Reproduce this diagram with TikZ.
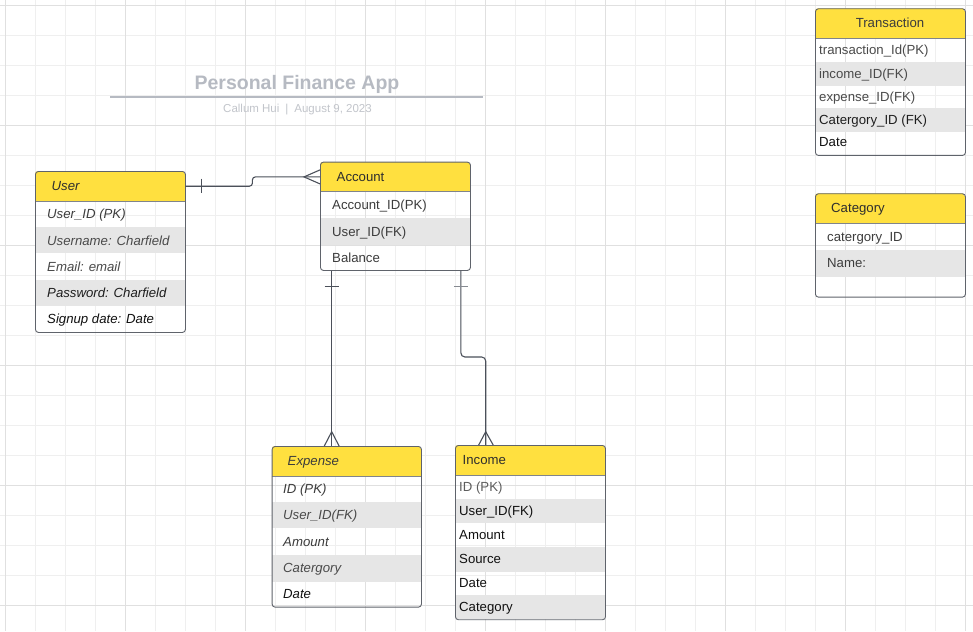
\documentclass[tikz,border=0pt]{standalone}
\usepackage{fontspec}
\setmainfont{Liberation Sans}
\usetikzlibrary{calc}
\definecolor{gridminor}{HTML}{EFEFEF}
\definecolor{gridmajor}{HTML}{E0E0E0}
\definecolor{hdr}{HTML}{FFE03F}
\definecolor{rowgray}{HTML}{E6E6E6}
\definecolor{border}{HTML}{5F636B}
\definecolor{sepline}{HTML}{80848B}
\definecolor{connc}{HTML}{4B505A}
\definecolor{connlight}{HTML}{868A91}
\definecolor{titlegray}{HTML}{B6BAC2}
\definecolor{subgray}{HTML}{C2C5CB}
\definecolor{tA}{HTML}{111111}
\definecolor{tB}{HTML}{1E1E1E}
\definecolor{tC}{HTML}{2E2E2E}
\definecolor{tD}{HTML}{3C3C3C}
\definecolor{tE}{HTML}{4A4A4A}
\definecolor{tF}{HTML}{5C5C5C}
\newcommand\cellat[5]{\node[celltxt, text=#4] (#1) at (#2,#3) {#5};}
\newcommand\itcellat[5]{\node[itcell, text=#4] (#1) at (#2,#3) {#5};}
\begin{document}
\begin{tikzpicture}[x=1pt,y=-1pt,
  tblbox/.style={draw=border, line width=0.9pt, rounded corners=3pt, inner sep=0, anchor=north west},
  hdrbox/.style={inner sep=0, anchor=north west, minimum width=150pt, minimum height=30pt},
  celltxt/.style={anchor=base west, inner sep=0, font=\fontsize{13.2}{15}\selectfont},
  itcell/.style={anchor=base west, inner sep=0, font=\fontsize{13.2}{15}\selectfont\itshape},
  connline/.style={draw=connc, line width=1.1pt},
  lightline/.style={draw=connlight, line width=1.1pt},
  minorgrid/.style={draw=gridminor, line width=0.9pt},
  majorgrid/.style={draw=gridmajor, line width=0.9pt},
  seprule/.style={draw=sepline, line width=0.8pt},
]
\useasboundingbox (0,0) rectangle (973,631);
\fill[white] (0,0) rectangle (973,631);
% grid
\foreach \x in {5,35,...,965} \draw[minorgrid] (\x,0) -- (\x,631);
\foreach \y in {5,35,...,625} \draw[minorgrid] (0,\y) -- (973,\y);
\foreach \x in {5,125,...,965} \draw[majorgrid] (\x,0) -- (\x,631);
\foreach \y in {5,125,...,605} \draw[majorgrid] (0,\y) -- (973,\y);

% title
\node[anchor=base, text=titlegray, font=\fontsize{19.5}{22}\selectfont\bfseries] (title) at (297,90) {Personal Finance App};
\draw[titlegray, line width=2pt] (110,96.7) -- (482.7,96.7);
\node[anchor=base, text=subgray, font=\fontsize{11.5}{13}\selectfont] (subtitle) at (297.5,112.5) {Callum Hui\hspace{6pt}|\hspace{6pt}August 9, 2023};

% ---------- User ----------
\begin{scope}
\clip[rounded corners=3pt] (35,171) rectangle (185,332);
\fill[hdr] (35,171) rectangle (185,201);
\fill[rowgray] (35,227.2) rectangle (185,253.4);
\fill[rowgray] (35,279.6) rectangle (185,305.8);
\end{scope}
\draw[seprule] (35,201) -- (185,201);
\node[tblbox, minimum width=150pt, minimum height=161pt] (user) at (35,171) {};
\node[hdrbox] (userhead) at (35,171) {};
\itcellat{uh}{51.5}{190.4}{tC}{User}
\itcellat{u1}{47}{218.8}{tD}{User\_ID (PK)}
\itcellat{u2}{47}{245}{tE}{Username: Charfield}
\itcellat{u3}{47}{271.2}{tE}{Email: email}
\itcellat{u4}{47}{297.4}{tB}{Password: Charfield}
\itcellat{u5}{47}{323.4}{tA}{Signup date: Date}

% ---------- Account ----------
\begin{scope}
\clip[rounded corners=3pt] (320,161.7) rectangle (470,270);
\fill[hdr] (320,161.7) rectangle (470,191.7);
\fill[rowgray] (320,218.2) rectangle (470,244.7);
\end{scope}
\draw[seprule] (320,191.7) -- (470,191.7);
\node[tblbox, minimum width=150pt, minimum height=108.3pt] (account) at (320,161.7) {};
\node[hdrbox] (accounthead) at (320,161.7) {};
\cellat{ah}{336.5}{181.2}{tC}{Account}
\cellat{a1}{332}{209.5}{tD}{Account\_ID(PK)}
\cellat{a2}{332}{236}{tD}{User\_ID(FK)}
\cellat{a3}{332}{262}{tD}{Balance}

% ---------- Transaction ----------
\begin{scope}
\clip[rounded corners=3pt] (815,8.3) rectangle (965,155);
\fill[hdr] (815,8.3) rectangle (965,38);
\fill[rowgray] (815,62.3) rectangle (965,85.7);
\fill[rowgray] (815,108.3) rectangle (965,131.7);
\end{scope}
\draw[seprule] (815,38) -- (965,38);
\node[tblbox, minimum width=150pt, minimum height=146.7pt] (transaction) at (815,8.3) {};
\node[hdrbox] (transactionhead) at (815,8.3) {};
\node[anchor=base, inner sep=0, font=\fontsize{13.2}{15}\selectfont, text=tD] (th) at (890,27.6) {Transaction};
\cellat{t1}{819}{54.5}{tE}{transaction\_Id(PK)}
\cellat{t2}{819}{78.4}{tE}{income\_ID(FK)}
\cellat{t3}{819}{101.4}{tE}{expense\_ID(FK)}
\cellat{t4}{819}{124.4}{tB}{Catergory\_ID (FK)}
\cellat{t5}{819}{147}{tA}{Date}

% ---------- Category ----------
\begin{scope}
\clip[rounded corners=3pt] (815,193.3) rectangle (965,296.7);
\fill[hdr] (815,193.3) rectangle (965,223.3);
\fill[rowgray] (815,250) rectangle (965,276.7);
\end{scope}
\draw[seprule] (815,223.3) -- (965,223.3);
\node[tblbox, minimum width=150pt, minimum height=103.4pt] (category) at (815,193.3) {};
\node[hdrbox] (categoryhead) at (815,193.3) {};
\cellat{ch}{831}{212.8}{tC}{Category}
\cellat{c1}{827}{241.2}{tD}{catergory\_ID}
\cellat{c2}{827}{267.8}{tD}{Name:}

% ---------- Expense ----------
\begin{scope}
\clip[rounded corners=3pt] (271.7,446) rectangle (421,606.7);
\fill[hdr] (271.7,446) rectangle (421,476);
\fill[rowgray] (271.7,501.7) rectangle (421,528.3);
\fill[rowgray] (271.7,555) rectangle (421,581.7);
\end{scope}
\draw[seprule] (271.7,476) -- (421,476);
\node[tblbox, minimum width=149.3pt, minimum height=160.7pt] (expense) at (271.7,446) {};
\node[hdrbox, minimum width=149.3pt] (expensehead) at (271.7,446) {};
\itcellat{eh}{287.5}{465.4}{tD}{Expense}
\itcellat{e1}{283}{493.4}{tD}{ID (PK)}
\itcellat{e2}{283}{519.6}{tE}{User\_ID(FK)}
\itcellat{e3}{283}{546.2}{tD}{Amount}
\itcellat{e4}{283}{572.8}{tE}{Catergory}
\itcellat{e5}{283}{598.6}{tA}{Date}

% ---------- Income ----------
\begin{scope}
\clip[rounded corners=3pt] (455,445) rectangle (605,619.3);
\fill[hdr] (455,445) rectangle (605,475);
\fill[rowgray] (455,499) rectangle (605,523.3);
\fill[rowgray] (455,546.7) rectangle (605,571.7);
\fill[rowgray] (455,595) rectangle (605,619.3);
\end{scope}
\draw[seprule] (455,475) -- (605,475);
\node[tblbox, minimum width=150pt, minimum height=174.3pt] (income) at (455,445) {};
\node[hdrbox] (incomehead) at (455,445) {};
\cellat{ih}{462.5}{464.4}{tC}{Income}
\cellat{i1}{459}{491.4}{tF}{ID (PK)}
\cellat{i2}{459}{515.6}{tA}{User\_ID(FK)}
\cellat{i3}{459}{539.4}{tA}{Amount}
\cellat{i4}{459}{563.6}{tA}{Source}
\cellat{i5}{459}{587.8}{tA}{Date}
\cellat{i6}{459}{611.6}{tA}{Category}

% ---------- connectors ----------
% User -- Account (one to many)
\draw[connline, rounded corners=3pt] (userhead.east) -- ++(67,0) |- (accounthead.west);
\draw[connline] ($(userhead.east)+(15.7,-7.5)$) -- ++(0,14);
\draw[connline] ($(accounthead.west)+(0,-7)$) -- ($(accounthead.west)+(-16,0)$) -- ($(accounthead.west)+(0,7)$);

% Account -- Expense
\coordinate (ae1) at ($(account.south west)+(11.7,0)$);
\coordinate (ae2) at (ae1 |- expense.north);
\draw[connline] (ae1) -- (ae2);
\draw[connline] ($(ae1)+(-7,15.7)$) -- ++(14,0);
\draw[connline] ($(ae2)+(-7.4,0)$) -- ($(ae2)+(0,-14.3)$) -- ($(ae2)+(7.4,0)$);

% Account -- Income
\coordinate (ai1) at ($(account.south east)+(-10,0)$);
\coordinate (ai2) at ($(income.north west)+(30.7,0)$);
\coordinate (aib) at ($(ai2)+(0,-88)$);
\draw[connline, rounded corners=4pt] (ai1) |- (aib) -- (ai2);
\draw[lightline] (ai1) -- ($(ai1 |- aib)+(0,-5)$);
\draw[lightline] ($(ai1)+(-7,15.7)$) -- ++(14,0);
\draw[connline] ($(ai2)+(-7,0)$) -- ($(ai2)+(0,-13.3)$) -- ($(ai2)+(7.5,0)$);
\end{tikzpicture}
\end{document}
